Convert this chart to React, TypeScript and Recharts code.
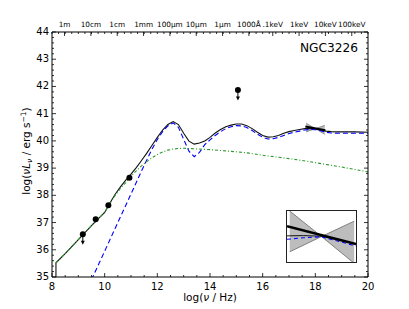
import React from "react";
import { ComposedChart, Line, Area, Scatter, XAxis, YAxis } from "recharts";

const FONT = "'DejaVu Sans', sans-serif";

// axis ticks
const xMajor = [8, 10, 12, 14, 16, 18, 20];
const yMajor = [35, 36, 37, 38, 39, 40, 41, 42, 43, 44];
const topPos = [8.477, 9.477, 10.477, 11.477, 12.477, 13.477, 14.477, 15.477, 16.383, 17.383, 18.383, 19.383];
const topLabels = ["1m", "10cm", "1cm", "1mm", "100\u03bcm", "10\u03bcm", "1\u03bcm", "1000\u00c5", ".1keV", "1keV", "10keV", "100keV"];

// total model (black)
const totalX = [8.15, 8.15, 8.5, 9.0, 9.5, 9.8, 10.0, 10.2, 10.4, 10.6, 10.8, 11.0, 11.2, 11.4, 11.6, 11.8, 12.0, 12.2, 12.4, 12.6, 12.8, 13.0, 13.2, 13.4, 13.6, 13.8, 14.0, 14.2, 14.4, 14.6, 14.8, 15.0, 15.2, 15.4, 15.6, 15.8, 16.0, 16.2, 16.4, 16.6, 16.8, 17.0, 17.2, 17.4, 17.6, 17.8, 18.0, 18.2, 18.4, 18.6, 18.8, 19.0, 19.5, 20.0];
const totalY = [34.0, 35.52, 35.86, 36.37, 36.89, 37.18, 37.37, 37.72, 38.04, 38.31, 38.56, 38.78, 39.02, 39.28, 39.55, 39.84, 40.13, 40.4, 40.6, 40.71, 40.6, 40.28, 39.99, 39.88, 39.92, 40.0, 40.13, 40.29, 40.42, 40.52, 40.58, 40.62, 40.62, 40.56, 40.45, 40.32, 40.2, 40.14, 40.15, 40.2, 40.28, 40.34, 40.38, 40.42, 40.45, 40.46, 40.44, 40.4, 40.36, 40.34, 40.33, 40.33, 40.33, 40.32];

// torus component (blue dashed)
const torusX = [9.5, 9.8, 10.0, 10.2, 10.4, 10.6, 10.8, 11.0, 11.2, 11.4, 11.6, 11.8, 12.0, 12.2, 12.4, 12.6, 12.8, 13.0, 13.2, 13.4, 13.6, 13.8, 14.0, 14.2, 14.4, 14.6, 14.8, 15.0, 15.2, 15.4, 15.6, 15.8, 16.0, 16.2, 16.4, 16.6, 16.8, 17.0, 17.2, 17.4, 17.6, 17.8, 18.0, 18.2, 18.4, 18.6, 18.8, 19.0, 19.5, 20.0];
const torusY = [34.9, 35.53, 35.95, 36.37, 36.79, 37.21, 37.63, 38.05, 38.47, 38.9, 39.3, 39.7, 40.05, 40.34, 40.55, 40.66, 40.5, 40.06, 39.62, 39.42, 39.58, 39.86, 40.04, 40.2, 40.34, 40.45, 40.52, 40.56, 40.55, 40.49, 40.38, 40.25, 40.13, 40.07, 40.08, 40.13, 40.2, 40.27, 40.32, 40.36, 40.4, 40.42, 40.41, 40.37, 40.32, 40.29, 40.28, 40.28, 40.28, 40.28];

// other component (green dash-dot)
const otherX = [8.15, 8.5, 9.0, 9.5, 9.8, 10.0, 10.2, 10.4, 10.6, 10.8, 11.0, 11.2, 11.4, 11.6, 11.8, 12.0, 12.2, 12.4, 12.6, 12.8, 13.0, 13.2, 13.4, 13.6, 13.8, 14.0, 14.5, 15.0, 15.5, 16.0, 16.5, 17.0, 17.5, 18.0, 18.5, 19.0, 19.5, 20.0];
const otherY = [35.52, 35.86, 36.37, 36.89, 37.18, 37.37, 37.7, 38.0, 38.25, 38.47, 38.7, 38.9, 39.08, 39.24, 39.38, 39.5, 39.59, 39.66, 39.7, 39.72, 39.73, 39.72, 39.71, 39.7, 39.69, 39.68, 39.64, 39.6, 39.55, 39.47, 39.41, 39.35, 39.28, 39.2, 39.12, 39.04, 38.95, 38.86];

// photometry
const ptX = [9.17, 9.66, 10.14, 10.94, 15.06];
const ptY = [36.57, 37.12, 37.64, 38.65, 41.87];
const ptUpper = [true, false, false, false, true];

// X-ray bowtie
const bowX = [17.65, 18.0, 18.36];
const bowHi = [40.65, 40.45, 40.57];
const bowLo = [40.33, 40.45, 40.24];
const plX = [17.62, 18.38];
const plY = [40.53, 40.39];

// inset model curves
const insetX = [17.62, 17.8, 18.0, 18.2, 18.38];
const insetTotal = [40.455, 40.457, 40.452, 40.42, 40.39];
const insetTorus = [40.428, 40.44, 40.448, 40.41, 40.375];

const rows = (xs: number[], ys: any[]) => xs.map((x, i) => ({ x, y: ys[i] }));

const totalData = rows(totalX, totalY);
const torusData = rows(torusX, torusY);
const otherData = rows(otherX, otherY);
const bowData = bowX.map((x, i) => ({ x, y: [bowLo[i], bowHi[i]] }));
const plData = rows(plX, plY);
const ptData = ptX.map((x, i) => ({ x, y: ptY[i], ul: ptUpper[i] }));

const xMinor: number[] = [];
for (let v = 8; v <= 20; v += 0.5) if (v % 2 !== 0) xMinor.push(v);
const yMinor: number[] = [];
for (let k = 0; k <= 45; k++) if (k % 5 !== 0) yMinor.push(Math.round((35 + k * 0.2) * 10) / 10);
const topMinor: number[] = [];
for (let v = 8; v <= 20; v += 0.25) topMinor.push(v);

const isIn = (arr: number[], v: number) => arr.some((a) => Math.abs(a - v) < 1e-6);

const BottomTick = (p: any) => {
  const v = p.payload.value;
  const major = isIn(xMajor, v);
  return (
    <g>
      <line x1={p.x} x2={p.x} y1={p.y} y2={p.y - (major ? 4 : 2)} stroke="#000" strokeWidth={0.8} />
      {major && (
        <text x={p.x} y={p.y + 12.5} textAnchor="middle" fontSize={10} fontFamily={FONT} fill="#000">
          {v}
        </text>
      )}
    </g>
  );
};

const TopTick = (p: any) => {
  const v = p.payload.value;
  const idx = topPos.findIndex((a) => Math.abs(a - v) < 1e-6);
  const major = idx >= 0;
  return (
    <g>
      <line x1={p.x} x2={p.x} y1={p.y} y2={p.y + (major ? 4 : 2)} stroke="#000" strokeWidth={0.8} />
      {major && (
        <text x={p.x} y={p.y - 5} textAnchor="middle" fontSize={7.3} fontFamily={FONT} fill="#000">
          {topLabels[idx]}
        </text>
      )}
    </g>
  );
};

const LeftTick = (p: any) => {
  const v = p.payload.value;
  const major = isIn(yMajor, v);
  return (
    <g>
      <line x1={p.x} x2={p.x + (major ? 4 : 2)} y1={p.y} y2={p.y} stroke="#000" strokeWidth={0.8} />
      {major && (
        <text x={p.x - 3} y={p.y + 3} textAnchor="end" fontSize={10} fontFamily={FONT} fill="#000">
          {v}
        </text>
      )}
    </g>
  );
};

const RightTick = (p: any) => {
  const v = p.payload.value;
  const major = isIn(yMajor, v);
  return <line x1={p.x} x2={p.x - (major ? 4 : 2)} y1={p.y} y2={p.y} stroke="#000" strokeWidth={0.8} />;
};

const PointShape = (p: any) => {
  const { cx, cy, payload } = p;
  return (
    <g>
      {payload.ul && (
        <g>
          <line x1={cx} x2={cx} y1={cy} y2={cy + 8} stroke="#000" strokeWidth={1} />
          <path d={`M${cx - 2},${cy + 6.5} L${cx},${cy + 10.5} L${cx + 2},${cy + 6.5} Z`} fill="#000" />
        </g>
      )}
      <circle cx={cx} cy={cy} r={3} fill="#000" />
    </g>
  );
};

function Inset() {
  return (
    <div
      style={{
        position: "absolute",
        left: 286,
        top: 210,
        width: 71,
        height: 53,
        border: "1px solid #222",
        boxSizing: "border-box",
        background: "#fff",
      }}
    >
      <ComposedChart width={69} height={51} margin={{ top: 0, right: 0, bottom: 0, left: 0 }}>
        <XAxis type="number" dataKey="x" domain={[17.62, 18.38]} allowDataOverflow hide />
        <YAxis type="number" dataKey="y" domain={[40.25, 40.65]} allowDataOverflow hide />
        <Area
          data={bowData}
          dataKey="y"
          type="linear"
          stroke="#808080"
          strokeWidth={1}
          fill="#bdbdbd"
          fillOpacity={1}
          isAnimationActive={false}
        />
        <Line data={rows(insetX, insetTotal)} dataKey="y" type="linear" stroke="#000" strokeWidth={0.9} dot={false} activeDot={false} isAnimationActive={false} />
        <Line data={rows(insetX, insetTorus)} dataKey="y" type="linear" stroke="#0000ff" strokeWidth={1.1} strokeDasharray="4 3" dot={false} activeDot={false} isAnimationActive={false} />
        <Line data={plData} dataKey="y" type="linear" stroke="#000" strokeWidth={2.5} dot={false} activeDot={false} isAnimationActive={false} />
      </ComposedChart>
    </div>
  );
}

export default function App() {
  return (
    <div style={{ position: "relative", width: 409, height: 309, background: "#fff", fontFamily: FONT }}>
      <style>{"body{margin:0}"}</style>
      <ComposedChart width={409} height={309} margin={{ top: 0, right: 0, bottom: 0, left: 0 }}>
        <XAxis
          xAxisId="b"
          type="number"
          dataKey="x"
          orientation="bottom"
          domain={[8, 20]}
          allowDataOverflow
          ticks={[...xMajor, ...xMinor].sort((a, b) => a - b)}
          interval={0}
          height={32}
          tickSize={0}
          tickMargin={0}
          tickLine={false}
          tick={BottomTick}
          axisLine={{ stroke: "#000", strokeWidth: 1 }}
        />
        <XAxis
          xAxisId="t"
          type="number"
          dataKey="x"
          orientation="top"
          domain={[8, 20]}
          allowDataOverflow
          ticks={[...topPos, ...topMinor].sort((a, b) => a - b)}
          interval={0}
          height={32}
          tickSize={0}
          tickMargin={0}
          tickLine={false}
          tick={TopTick}
          axisLine={{ stroke: "#000", strokeWidth: 1 }}
        />
        <YAxis
          yAxisId="l"
          type="number"
          dataKey="y"
          orientation="left"
          domain={[35, 44]}
          allowDataOverflow
          ticks={[...yMajor, ...yMinor].sort((a, b) => a - b)}
          interval={0}
          width={52}
          tickSize={0}
          tickMargin={0}
          tickLine={false}
          tick={LeftTick}
          axisLine={{ stroke: "#000", strokeWidth: 1 }}
        />
        <YAxis
          yAxisId="r"
          type="number"
          dataKey="y"
          orientation="right"
          domain={[35, 44]}
          allowDataOverflow
          ticks={[...yMajor, ...yMinor].sort((a, b) => a - b)}
          interval={0}
          width={41}
          tickSize={0}
          tickMargin={0}
          tickLine={false}
          tick={RightTick}
          axisLine={{ stroke: "#000", strokeWidth: 1 }}
        />
        <Line xAxisId="t" yAxisId="r" data={totalData} dataKey="y" stroke="none" dot={false} activeDot={false} isAnimationActive={false} />
        <Line xAxisId="b" yAxisId="l" data={totalData} dataKey="y" type="linear" stroke="#111" strokeWidth={1.1} dot={false} activeDot={false} isAnimationActive={false} />
        <Line xAxisId="b" yAxisId="l" data={torusData} dataKey="y" type="linear" stroke="#0000ff" strokeWidth={1.1} strokeDasharray="5 3" dot={false} activeDot={false} isAnimationActive={false} />
        <Line xAxisId="b" yAxisId="l" data={otherData} dataKey="y" type="linear" stroke="#2a9a2a" strokeWidth={1.1} strokeDasharray="3 2 1 2" dot={false} activeDot={false} isAnimationActive={false} />
        <Area
          xAxisId="b"
          yAxisId="l"
          data={bowData}
          dataKey="y"
          type="linear"
          stroke="#808080"
          strokeWidth={0.8}
          fill="#bdbdbd"
          fillOpacity={1}
          isAnimationActive={false}
        />
        <Line xAxisId="b" yAxisId="l" data={plData} dataKey="y" type="linear" stroke="#000" strokeWidth={2} dot={false} activeDot={false} isAnimationActive={false} />
        <Scatter xAxisId="b" yAxisId="l" data={ptData} dataKey="y" shape={PointShape} isAnimationActive={false} />
      </ComposedChart>
      <svg width={409} height={309} style={{ position: "absolute", left: 0, top: 0, pointerEvents: "none" }}>
        <text x={358} y={51.5} textAnchor="end" fontSize={12.2} fontFamily={FONT} fill="#000">
          NGC3226
        </text>
        <text x={210} y={301} textAnchor="middle" fontSize={10.5} fontFamily={FONT} fill="#000">
          log(<tspan fontStyle="italic">{"\u03bd"}</tspan> / Hz)
        </text>
        <text transform="translate(30,151) rotate(-90)" textAnchor="middle" fontSize={10.5} fontFamily={FONT} fill="#000">
          log(<tspan fontStyle="italic">{"\u03bdL"}</tspan>
          <tspan fontStyle="italic" fontSize={7.5} dy={2}>{"\u03bd"}</tspan>
          <tspan dy={-2}>{" / erg s"}</tspan>
          <tspan fontSize={7.5} dy={-4}>{"\u22121"}</tspan>
          <tspan dy={4}>)</tspan>
        </text>
      </svg>
      <Inset />
    </div>
  );
}
